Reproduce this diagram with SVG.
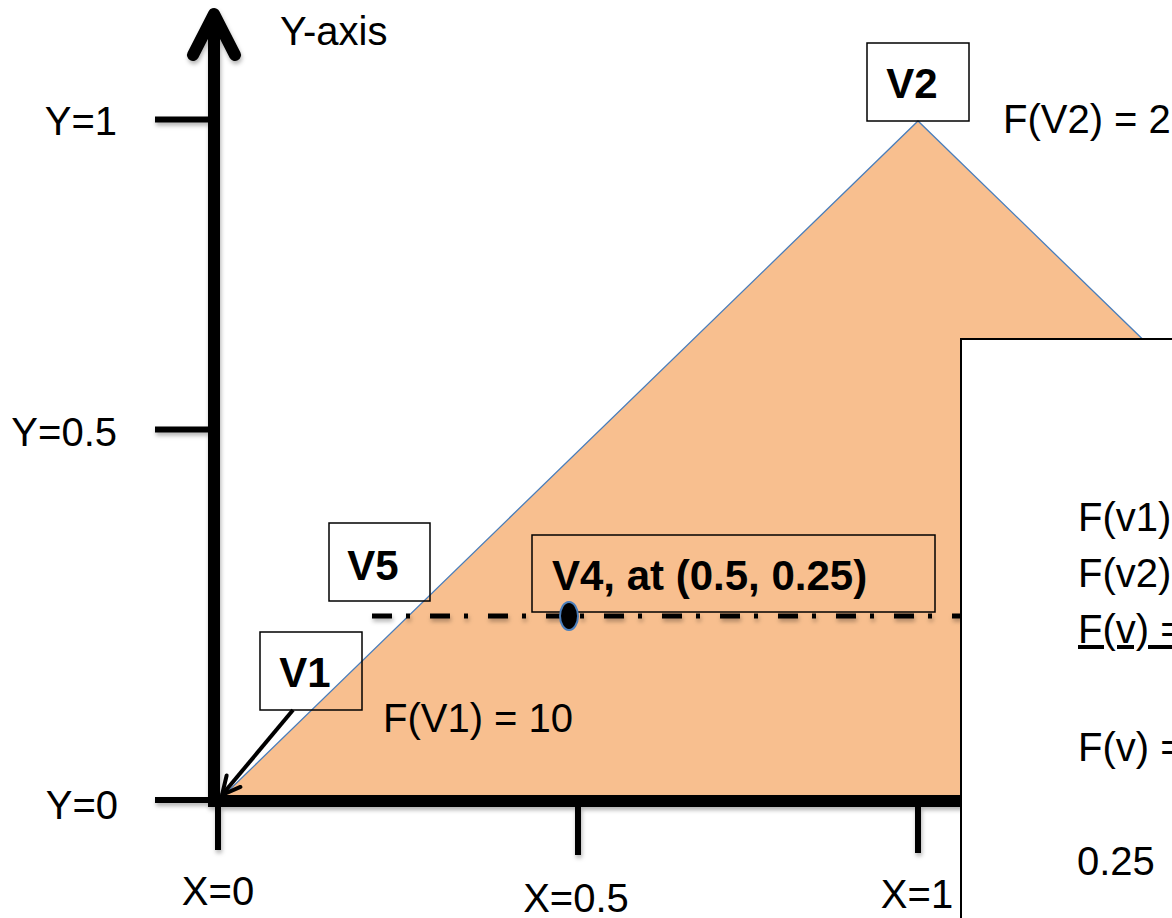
<svg xmlns="http://www.w3.org/2000/svg" width="1172" height="918" viewBox="0 0 1172 918">
  <defs>
    <style>
      .lbl { font-family: "Liberation Sans", Arial, sans-serif; font-size: 40px; fill: #000; }
      .bold { font-family: "Liberation Sans", Arial, sans-serif; font-size: 42px; font-weight: bold; fill: #000; }
      .axis { stroke: #000; stroke-width: 12; fill: none; }
      .tick { stroke: #000; stroke-width: 6; fill: none; }
      .node { fill: none; stroke: #000; stroke-width: 1.5; }
    </style>
    <filter id="shadow" filterUnits="userSpaceOnUse" x="0" y="0" width="1172" height="918">
      <feDropShadow dx="1" dy="3" stdDeviation="2" flood-color="#000" flood-opacity="0.3"/>
    </filter>
    <marker id="openArrow" markerUnits="userSpaceOnUse" viewBox="0 0 24 24" markerWidth="24" markerHeight="24" refX="21" refY="12" orient="auto">
      <path d="M3,3 L21,12 L3,21" fill="none" stroke="#000" stroke-width="4" stroke-linecap="round" stroke-linejoin="round"/>
    </marker>
  </defs>

  <rect width="1172" height="918" fill="#fff"/>

  <!-- shaded triangle -->
  <g id="triangle">
    <polygon points="219,800 918,121 1617,800" fill="#F8BF8F" stroke="#4A7EBB" stroke-width="1.3"/>
  </g>

  <!-- axes -->
  <g id="axes" filter="url(#shadow)">
    <line class="axis" x1="214" y1="20" x2="214" y2="807"/>
    <path class="axis" d="M193,55 L214,14 L235,55" stroke-linecap="round" stroke-linejoin="round"/>
    <line class="axis" x1="208" y1="801" x2="1172" y2="801"/>
    <line class="tick" x1="155" y1="119.5" x2="214" y2="119.5"/>
    <line class="tick" x1="155" y1="429.5" x2="214" y2="429.5"/>
    <line class="tick" x1="155" y1="800" x2="214" y2="800"/>
    <line class="tick" x1="218" y1="801" x2="218" y2="850"/>
    <line class="tick" x1="578" y1="801" x2="578" y2="855"/>
    <line class="tick" x1="918" y1="801" x2="918" y2="853"/>
  </g>

  <g id="axis-labels">
    <text class="lbl" x="280" y="45">Y-axis</text>
    <text class="lbl" x="117" y="135" text-anchor="end">Y=1</text>
    <text class="lbl" x="117" y="446" text-anchor="end">Y=0.5</text>
    <text class="lbl" x="118" y="819" text-anchor="end">Y=0</text>
    <text class="lbl" x="218" y="905" text-anchor="middle">X=0</text>
    <text class="lbl" x="576" y="912" text-anchor="middle">X=0.5</text>
    <text class="lbl" x="917" y="908" text-anchor="middle">X=1</text>
  </g>

  <!-- connectors -->
  <g id="connectors">
    <line x1="372" y1="616" x2="962" y2="616" stroke="#000" stroke-width="5" stroke-dasharray="20 14 4 20" filter="url(#shadow)"/>
    <line x1="293" y1="710" x2="222" y2="795" stroke="#000" stroke-width="4" marker-end="url(#openArrow)"/>
  </g>

  <g id="node-V2">
    <rect class="node" x="867" y="43" width="102" height="78" fill="#fff"/>
    <text class="bold" x="912" y="98" text-anchor="middle">V2</text>
  </g>
  <text class="lbl" x="1003" y="133">F(V2) = 2</text>

  <g id="node-V5">
    <rect class="node" x="329" y="523" width="101" height="78"/>
    <text class="bold" x="373" y="580" text-anchor="middle">V5</text>
  </g>

  <g id="node-V1">
    <rect class="node" x="260" y="632" width="102" height="78"/>
    <text class="bold" x="305" y="687" text-anchor="middle">V1</text>
  </g>
  <text class="lbl" x="383" y="732">F(V1) = 10</text>

  <g id="node-V4">
    <rect class="node" x="532" y="535" width="403" height="77"/>
    <text class="bold" x="552" y="590">V4, at (0.5, 0.25)</text>
    <ellipse cx="569" cy="616" rx="9" ry="14" fill="#000" stroke="#4A7EBB" stroke-width="2"/>
  </g>

  <g id="node-calc">
    <rect x="961" y="339" width="300" height="700" fill="#fff" stroke="#000" stroke-width="2"/>
    <text class="lbl" x="1078" y="531">F(v1)</text>
    <text class="lbl" x="1078" y="587">F(v2)</text>
    <text class="lbl" x="1078" y="643" text-decoration="underline">F(v) =</text>
    <text class="lbl" x="1078" y="761">F(v) =</text>
    <text class="lbl" x="1077" y="875">0.25</text>
  </g>
</svg>
